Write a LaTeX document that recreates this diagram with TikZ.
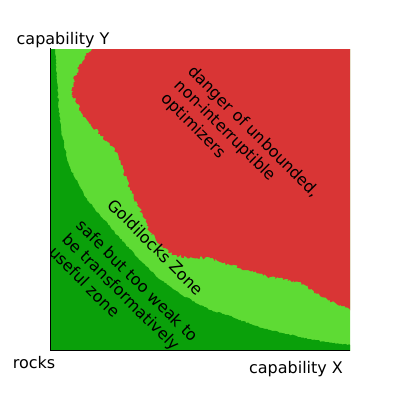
\documentclass[tikz,border=0pt]{standalone}
\usepackage{fontspec}
\setmainfont{DejaVu Sans}
\usetikzlibrary{decorations.pathmorphing}
\definecolor{zred}{RGB}{217,53,53}
\definecolor{zlight}{RGB}{94,219,52}
\definecolor{zdark}{RGB}{10,160,10}
\begin{document}
\begin{tikzpicture}[x=1pt,y=-1pt,
  lbl/.style={font=\fontsize{16}{19.2}\selectfont, inner sep=0pt},
  rough/.style={decorate, decoration={random steps,segment length=1.6pt,amplitude=#1}}]
\pgfmathsetseed{7}
\useasboundingbox (0,0) rectangle (400,400);
\coordinate (tl) at (50,48);
\coordinate (o) at (50,350);
\coordinate (br) at (350,350);
\begin{scope}
\clip (50,49) rectangle (350,350);
\fill[zlight] (40,40) rectangle (360,360);
\fill[zred, rough=1.6pt] (92,38) -- (92,49) -- (85,56) -- (80,64) -- (74,80) -- (72,92) -- (77,104) -- (83,115)
  -- (88,121) -- (100,134) -- (112,146) -- (119,158) -- (124,172) -- (130,190) -- (138,205)
  -- (143,215) -- (150,232) -- (160,245) -- (173,255) -- (193,258) -- (210,258) -- (230,265)
  -- (250,271) -- (270,277) -- (290,280) -- (305,285) -- (320,296) -- (340,305) -- (350,310)
  -- (362,312) -- (362,38) -- cycle;
\fill[zdark, rough=0.7pt] (54,38) -- (55,49) -- (57,80) -- (59,110) -- (61,130) -- (65,150) -- (70,168)
  -- (78,183) -- (86,198) -- (100,215) -- (117,235) -- (137,257) -- (157,277) -- (180,294)
  -- (210,310) -- (230,316) -- (250,324) -- (270,330) -- (300,337) -- (325,342) -- (350,345)
  -- (362,346) -- (362,362) -- (38,362) -- (38,38) -- cycle;
\end{scope}
\draw[line width=1pt] (tl) -- (o) -- (br);
\node[lbl] (ylab) at (63,40) {capability Y};
\node[lbl] (rocks) at (34,363) {rocks};
\node[lbl] (xlab) at (296,369) {capability X};
\node[lbl, rotate=-45, align=left] (danger) at (240,146) {danger of unbounded,\\non-interruptible\\optimizers};
\node[lbl, rotate=-45] (gold) at (156,247) {Goldilocks Zone};
\node[lbl, rotate=-45, align=left] (safe) at (124,294) {safe but too weak to\\be transformatively\\useful zone};
\end{tikzpicture}
\end{document}
